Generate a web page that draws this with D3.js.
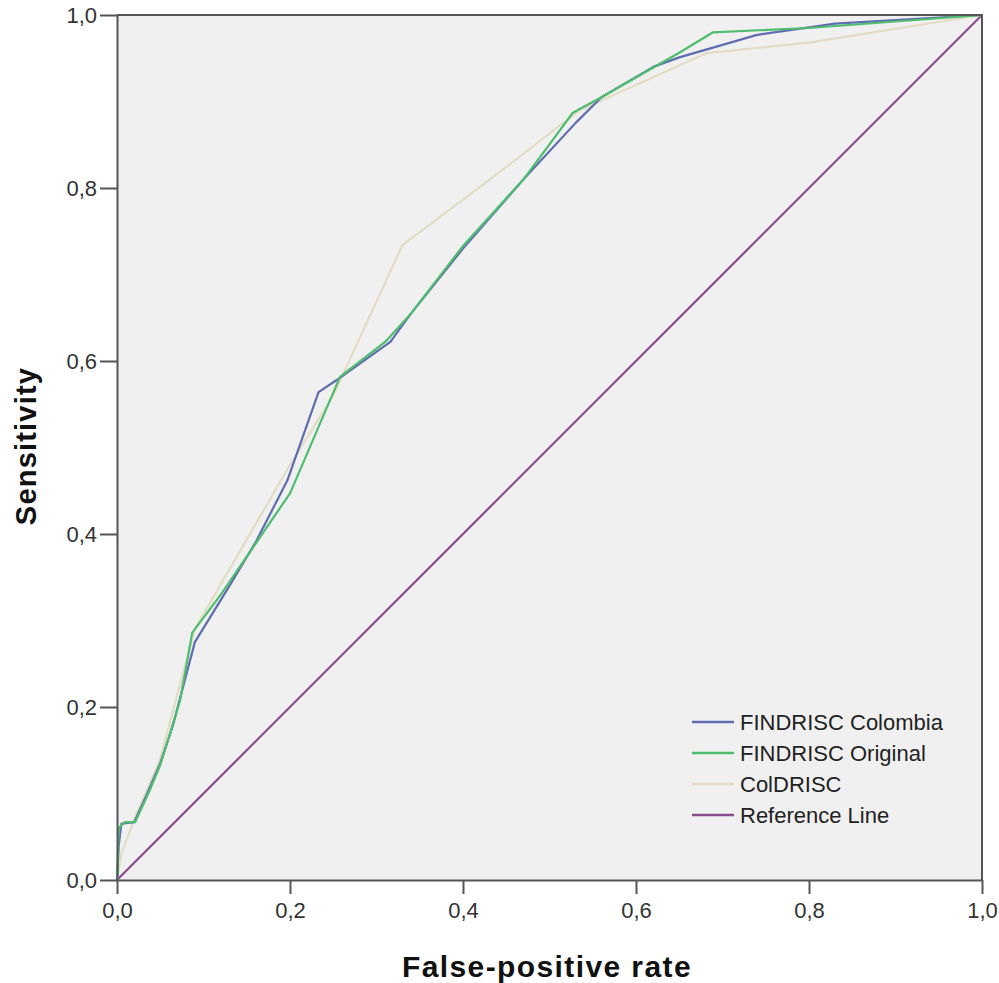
<!DOCTYPE html>
<html>
<head>
<meta charset="utf-8">
<script src="https://cdn.jsdelivr.net/npm/d3@7"></script>
<style>
  html, body { margin: 0; padding: 0; background: #fff; }
  svg { display: block; font-family: "Liberation Sans", Arial, sans-serif; }
</style>
</head>
<body>
<svg id="chart" width="999" height="983"></svg>
<script>
// ROC curves: false-positive rate (x) vs sensitivity (y)
const seriesNames = ["FINDRISC Colombia", "FINDRISC Original", "ColDRISC", "Reference Line"];
const seriesColors = ["#5f6db0", "#4fbd6e", "#e2dcc4", "#8a4c8c"];

const colombiaFpr = [0, 0.002, 0.005, 0.02, 0.035, 0.05, 0.065, 0.09, 0.13, 0.16, 0.197, 0.233, 0.254, 0.316, 0.34, 0.4, 0.47, 0.53, 0.56, 0.62, 0.65, 0.74, 0.83, 1];
const colombiaSens = [0, 0.04, 0.065, 0.067, 0.1, 0.135, 0.18, 0.275, 0.34, 0.39, 0.462, 0.564, 0.578, 0.622, 0.655, 0.73, 0.81, 0.875, 0.905, 0.94, 0.951, 0.977, 0.99, 1];

const originalFpr = [0, 0.002, 0.009, 0.021, 0.038, 0.05, 0.061, 0.073, 0.087, 0.12, 0.2, 0.258, 0.31, 0.34, 0.4, 0.47, 0.527, 0.56, 0.651, 0.689, 0.8, 1];
const originalSens = [0, 0.06, 0.067, 0.067, 0.104, 0.133, 0.168, 0.208, 0.286, 0.33, 0.447, 0.582, 0.622, 0.655, 0.733, 0.81, 0.887, 0.905, 0.957, 0.98, 0.985, 1];

const coldriscFpr = [0, 0.005, 0.02, 0.05, 0.09, 0.2, 0.25, 0.33, 0.43, 0.535, 0.682, 0.8, 1];
const coldriscSens = [0, 0.03, 0.07, 0.14, 0.29, 0.48, 0.56, 0.734, 0.809, 0.89, 0.956, 0.968, 1];

const referenceFpr = [0, 1];
const referenceSens = [0, 1];

const tickValues = [0, 0.2, 0.4, 0.6, 0.8, 1.0];
const tickLabels = ["0,0", "0,2", "0,4", "0,6", "0,8", "1,0"];

const svg = d3.select("#chart");
const plot = { left: 117, right: 982, top: 15, bottom: 880 };

const x = d3.scaleLinear().domain([0, 1]).range([plot.left, plot.right]);
const y = d3.scaleLinear().domain([0, 1]).range([plot.bottom, plot.top]);

// plot background
svg.append("rect")
  .attr("x", plot.left).attr("y", plot.top)
  .attr("width", plot.right - plot.left).attr("height", plot.bottom - plot.top)
  .attr("fill", "#f0f0f0");

// series, reference line drawn first so the curves sit on top
const series = [
  { fpr: referenceFpr, sens: referenceSens, color: seriesColors[3] },
  { fpr: coldriscFpr, sens: coldriscSens, color: seriesColors[2] },
  { fpr: colombiaFpr, sens: colombiaSens, color: seriesColors[0] },
  { fpr: originalFpr, sens: originalSens, color: seriesColors[1] }
];
const line = d3.line().x(d => x(d[0])).y(d => y(d[1]));
series.forEach(s => {
  svg.append("path")
    .datum(s.fpr.map((v, i) => [v, s.sens[i]]))
    .attr("d", line)
    .attr("fill", "none")
    .attr("stroke", s.color)
    .attr("stroke-width", 2.2)
    .attr("stroke-linejoin", "round");
});

// frame (top and right)
svg.append("path")
  .attr("d", `M${plot.left},${plot.top}H${plot.right}V${plot.bottom}`)
  .attr("fill", "none").attr("stroke", "#555").attr("stroke-width", 2);

const fmt = d => tickLabels[tickValues.indexOf(d)];

const xAxis = svg.append("g")
  .attr("transform", `translate(0,${plot.bottom})`)
  .call(d3.axisBottom(x).tickValues(tickValues).tickFormat(fmt).tickSize(14).tickPadding(8).tickSizeOuter(0));
const yAxis = svg.append("g")
  .attr("transform", `translate(${plot.left},0)`)
  .call(d3.axisLeft(y).tickValues(tickValues).tickFormat(fmt).tickSize(17).tickPadding(3).tickSizeOuter(0));

[xAxis, yAxis].forEach(g => {
  g.select(".domain").attr("stroke", "#555").attr("stroke-width", 2);
  g.selectAll(".tick line").attr("stroke", "#555").attr("stroke-width", 2);
  g.selectAll(".tick text").attr("fill", "#333").style("font-size", "22px");
});

// axis titles
svg.append("text")
  .attr("x", 547).attr("y", 977)
  .attr("text-anchor", "middle")
  .style("font-size", "30px").style("font-weight", "bold").style("letter-spacing", "1.4px")
  .attr("fill", "#111")
  .text("False-positive rate");
svg.append("text")
  .attr("transform", `translate(36,446) rotate(-90)`)
  .attr("text-anchor", "middle")
  .style("font-size", "29px").style("font-weight", "bold").style("letter-spacing", "1.2px")
  .attr("fill", "#111")
  .text("Sensitivity");

// legend
const legend = svg.append("g").attr("transform", "translate(692,722)");
seriesNames.forEach((name, i) => {
  const row = legend.append("g").attr("transform", `translate(0,${i * 31})`);
  row.append("line").attr("x1", 0).attr("x2", 42).attr("y1", 0).attr("y2", 0)
    .attr("stroke", seriesColors[i]).attr("stroke-width", 2.5);
  row.append("text").attr("x", 48).attr("y", 0).attr("dy", "0.35em")
    .style("font-size", "22px").attr("fill", "#222").text(name);
});
</script>
</body>
</html>
